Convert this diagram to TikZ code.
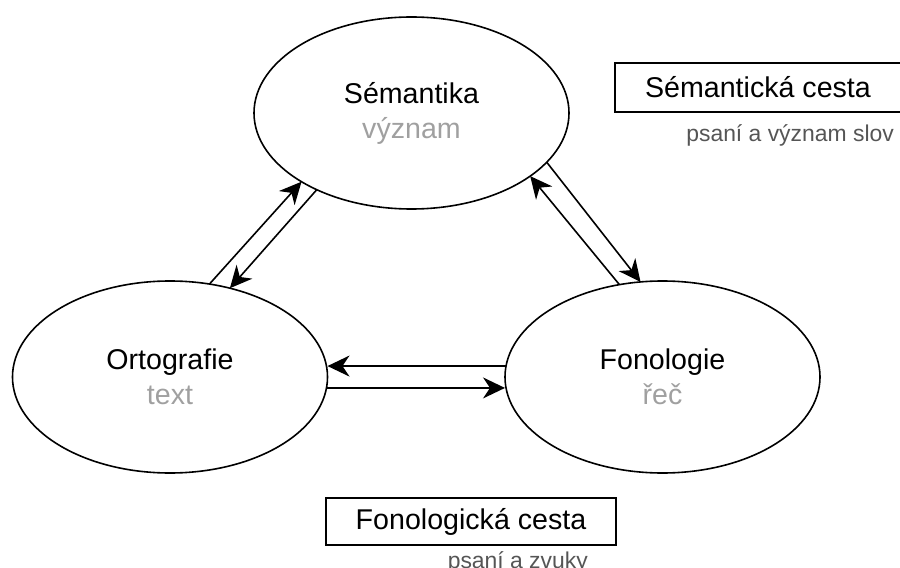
\documentclass[tikz,border=0pt]{standalone}
\usepackage{fontspec}
\setmainfont{Liberation Sans}
\usetikzlibrary{shapes.geometric,arrows.meta}
\definecolor{subgray}{HTML}{A0A0A0}
\definecolor{notegray}{HTML}{555555}
\begin{document}
\begin{tikzpicture}[x=1bp,y=-1bp,
  bubble/.style={ellipse,draw,line width=1.6bp,minimum width=315bp,minimum height=192bp,
    inner sep=0pt,outer sep=0pt,align=center,font=\fontsize{28.6bp}{35bp}\selectfont},
  tag/.style={rectangle,draw,line width=1.6bp,inner sep=0pt,outer sep=0pt,
    font=\fontsize{28.6bp}{34.3bp}\selectfont},
  note/.style={inner sep=0pt,text=notegray,font=\fontsize{22.9bp}{27bp}\selectfont},
  link/.style={line width=1.6bp,-{Stealth[length=22bp,width=21bp,inset=7bp]}}
]
\useasboundingbox (0,0) rectangle (900,568);

% the three representations
\node[bubble] (sem) at (411.5,113) {Sémantika\\\textcolor{subgray}{význam}};
\node[bubble] (ort) at (170,377) {Ortografie\\\textcolor{subgray}{text}};
\node[bubble] (fon) at (662.5,377) {Fonologie\\\textcolor{subgray}{řeč}};

% pathway labels
\node[tag,minimum width=286bp,minimum height=49bp] (semtag) at (758,87.5) {Sémantická cesta};
\node[note,anchor=base east] (semnote) at (894,142) {psaní a význam slov};
\node[tag,minimum width=290bp,minimum height=47bp] (fontag) at (471,521.5) {Fonologická cesta};
\node[note,anchor=base east] (fonnote) at (588,568) {psaní a zvuky};

% links between the representations
\draw[link] (ort.67.2) -- (sem.212.3);
\draw[link] (sem.219.3) -- (ort.56.3);
\draw[link] (fon.115.8) -- (sem.332.8);
\draw[link] (sem.340.4) -- (fon.103.1);
% horizontal pair: same height at both ends
\draw[link] (fon.176.4) -- (fon.176.4 -| ort.east);
\draw[link] (ort.-4.4) -- (ort.-4.4 -| fon.west);
\end{tikzpicture}
\end{document}
